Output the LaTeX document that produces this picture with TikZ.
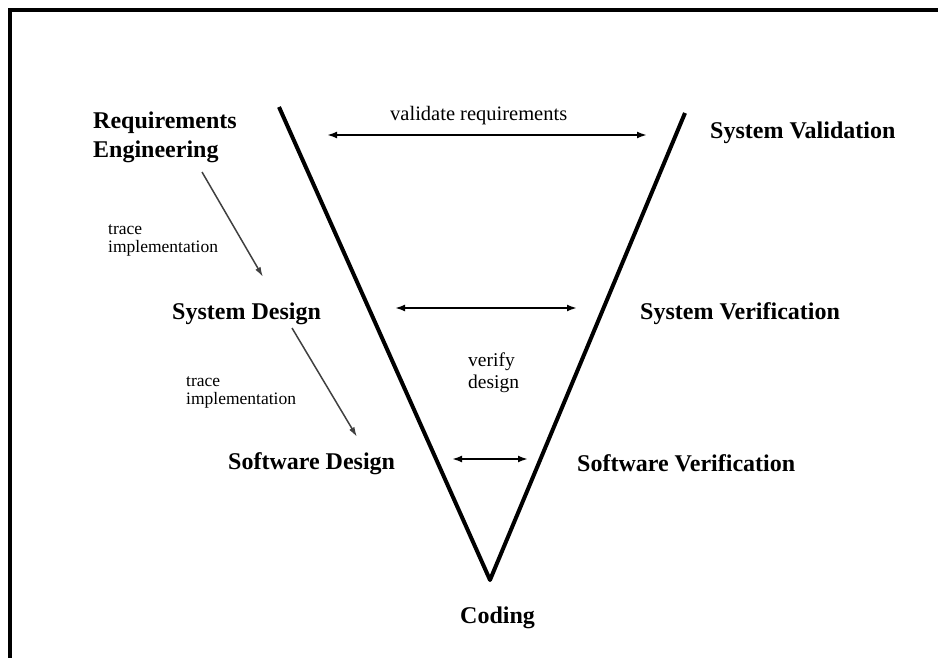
\documentclass[tikz,border=0pt]{standalone}
\usepackage{fontspec}
\setmainfont{Liberation Serif}
\usetikzlibrary{arrows.meta}

\begin{document}
\begin{tikzpicture}[x=1pt, y=-1pt,
    phase/.style = {font=\bfseries\fontsize{24}{29}\selectfont, inner sep=0pt, anchor=base west, align=left},
    note/.style = {font=\fontsize{19.5}{22}\selectfont, inner sep=0pt, anchor=base west, align=left},
    small note/.style = {note, font=\fontsize{17.5}{18}\selectfont},
    varm/.style = {line width=4pt, line join=round},
    check/.style = {line width=2pt, {Latex[length=10pt,width=7pt]}-{Latex[length=10pt,width=7pt]}},
    trace/.style = {line width=1.5pt, black!75, -{Latex[length=10pt,width=6pt]}}]
    \useasboundingbox (0,0) rectangle (938,658);
    % frame, only its top and left edge are in the picture
    \draw[line width=4pt] (10,658) -- (10,10) -- (938,10);

    % the V
    \coordinate (top left) at (279,107);
    \coordinate (apex) at (490,580);
    \coordinate (top right) at (685,113);
    \draw[varm] (top left) -- (apex) -- (top right);

    % phases (a node's base is its last line)
    \node[phase] (req) at (93,158) {Requirements\\Engineering};
    \node[phase] (sysdes) at (172,319) {System Design};
    \node[phase] (swdes) at (228,469) {Software Design};
    \node[phase] (code) at (460,623) {Coding};
    \node[phase] (swver) at (577,471) {Software Verification};
    \node[phase] (sysver) at (640,319) {System Verification};
    \node[phase] (sysval) at (710,139) {System Validation};

    % notes
    \node[note, font=\fontsize{20.5}{22}\selectfont] (valreq) at (390,121) {validate requirements};
    \node[note] (verdes) at (468,388) {verify\\design};
    \node[small note] (trace a) at (108,252) {trace\\implementation};
    \node[small note] (trace b) at (186,404) {trace\\implementation};

    % checks across the V
    \coordinate (va) at (327,135);
    \coordinate (vb) at (647,135);
    \coordinate (sa) at (395,308);
    \coordinate (sb) at (577,308);
    \coordinate (wa) at (452,459);
    \coordinate (wb) at (528,459);
    \draw[check] (va) -- (vb);
    \draw[check] (sa) -- (sb);
    \draw[check] (wa) -- (wb);

    % tracing down the left arm
    \coordinate (ta1) at (202,172);
    \coordinate (ta2) at (263,277);
    \coordinate (tb1) at (292,328);
    \coordinate (tb2) at (357,437);
    \draw[trace] (ta1) -- (ta2);
    \draw[trace] (tb1) -- (tb2);
\end{tikzpicture}
\end{document}
